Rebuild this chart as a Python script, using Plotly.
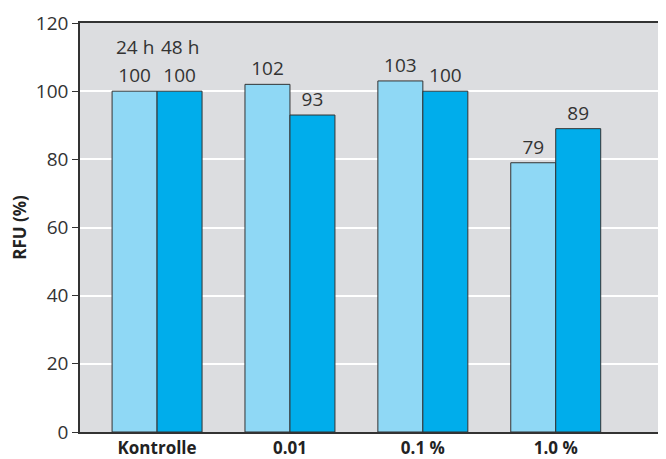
import plotly.graph_objects as go

categories = ["Kontrolle", "0.01", "0.1 %", "1.0 %"]
tick_labels = ["<b>Kontrolle</b>", "<b>0.01</b>", "<b>0.1 %</b>", "<b>1.0 %</b>"]
series_24h = [100, 102, 103, 79]
series_48h = [100, 93, 100, 89]
series_names = ["24 h", "48 h"]

font_family = "Open Sans, Noto Sans, Liberation Sans, sans-serif"

fig = go.Figure()
fig.add_trace(go.Bar(
    x=categories, y=series_24h, name=series_names[0],
    marker=dict(color="#8fd8f5", line=dict(color="#333333", width=1)),
    text=[str(v) for v in series_24h], textposition="outside",
    textfont=dict(size=19, color="#333333"), cliponaxis=False,
))
fig.add_trace(go.Bar(
    x=categories, y=series_48h, name=series_names[1],
    marker=dict(color="#00adeb", line=dict(color="#333333", width=1)),
    text=[str(v) for v in series_48h], textposition="outside",
    textfont=dict(size=19, color="#333333"), cliponaxis=False,
))

fig.add_annotation(x=-0.169, y=113, xref="x", yref="y", text=series_names[0],
                   showarrow=False, font=dict(size=19, color="#333333"))
fig.add_annotation(x=0.169, y=113, xref="x", yref="y", text=series_names[1],
                   showarrow=False, font=dict(size=19, color="#333333"))

fig.update_layout(
    width=666, height=459,
    margin=dict(l=72, r=0, t=15, b=35, autoexpand=False),
    paper_bgcolor="white", plot_bgcolor="#dcdde0",
    barmode="group", bargap=0.323, bargroupgap=0,
    showlegend=False,
    font=dict(family=font_family, color="#333333"),
)
fig.update_xaxes(
    type="category", range=[-0.58, 3.89],
    tickvals=categories, ticktext=tick_labels,
    tickfont=dict(size=17, color="#222222"),
    showline=True, linecolor="#333333", linewidth=1.5, mirror=True,
    ticks="", showgrid=False, automargin=False,
)
fig.update_yaxes(
    range=[0, 120], tickvals=[0, 20, 40, 60, 80, 100, 120],
    tickfont=dict(size=19, color="#333333"),
    showline=True, linecolor="#333333", linewidth=1.5,
    ticks="outside", ticklen=6, tickcolor="#333333",
    showgrid=True, gridcolor="white", gridwidth=1.5, zeroline=False,
    automargin=False,
    title=dict(text="<b>RFU (%)</b>", font=dict(size=17, color="#222222"), standoff=8),
)

fig.write_html("out.html")
